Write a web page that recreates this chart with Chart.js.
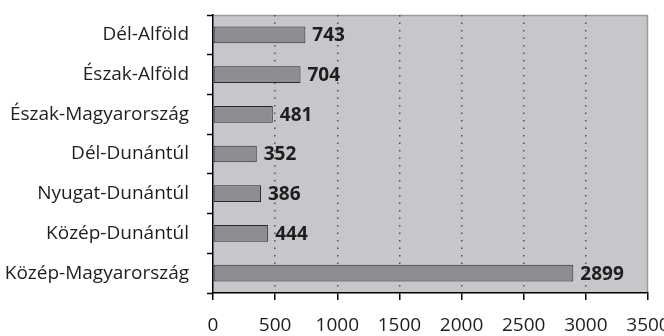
<!DOCTYPE html>
<html>
<head>
<meta charset="utf-8">
<script src="https://cdn.jsdelivr.net/npm/chart.js@4.4.1/dist/chart.umd.min.js"></script>
<style>
  html, body { margin: 0; padding: 0; background: #ffffff; }
  #wrap { width: 664px; height: 336px; position: relative; }
</style>
</head>
<body>
<div id="wrap"><canvas id="c"></canvas></div>
<script>
// Regions and their values
const regions = [
  'Dél-Alföld',
  'Észak-Alföld',
  'Észak-Magyarország',
  'Dél-Dunántúl',
  'Nyugat-Dunántúl',
  'Közép-Dunántúl',
  'Közép-Magyarország'
];
const values = [743, 704, 481, 352, 386, 444, 2899];
const xTicks = [0, 500, 1000, 1500, 2000, 2500, 3000, 3500];

const FONT = '"Open Sans", "DejaVu Sans", sans-serif';

// Grey plot background with a thin frame on the top and right edges
const plotFrame = {
  id: 'plotFrame',
  beforeDraw(chart) {
    const { ctx, chartArea: a } = chart;
    ctx.save();
    ctx.fillStyle = '#c6c7cb';
    ctx.fillRect(a.left, a.top, a.right - a.left, a.bottom - a.top);
    ctx.strokeStyle = '#9a9a9e';
    ctx.lineWidth = 1.5;
    ctx.beginPath();
    ctx.moveTo(a.left, a.top + 0.5);
    ctx.lineTo(a.right - 0.5, a.top + 0.5);
    ctx.lineTo(a.right - 0.5, a.bottom);
    ctx.stroke();
    ctx.restore();
  }
};

// Bold value printed after the end of each bar
const valueLabels = {
  id: 'valueLabels',
  afterDatasetsDraw(chart) {
    const { ctx } = chart;
    const meta = chart.getDatasetMeta(0);
    ctx.save();
    ctx.font = 'bold 19px ' + FONT;
    ctx.fillStyle = '#1e1e1e';
    ctx.textAlign = 'left';
    ctx.textBaseline = 'middle';
    meta.data.forEach((bar, i) => {
      ctx.fillText(String(chart.data.datasets[0].data[i]), bar.x + 7, bar.y + 1);
    });
    ctx.restore();
  }
};

new Chart(document.getElementById('c'), {
  type: 'bar',
  data: {
    labels: regions,
    datasets: [{
      data: values,
      backgroundColor: '#8d8e92',
      borderColor: '#2a2a2a',
      borderWidth: 1,
      borderSkipped: false,
      categoryPercentage: 1,
      barPercentage: 0.42
    }]
  },
  options: {
    indexAxis: 'y',
    responsive: true,
    maintainAspectRatio: false,
    animation: false,
    devicePixelRatio: 1,
    layout: { padding: { top: 15, right: 16, left: 0, bottom: 0 } },
    plugins: { legend: { display: false }, tooltip: { enabled: false } },
    scales: {
      x: {
        type: 'linear',
        min: 0,
        max: 3500,
        afterBuildTicks(scale) { scale.ticks = xTicks.map(v => ({ value: v })); },
        afterFit(scale) {
          scale.height = 43;
          scale.paddingLeft = 0;
          scale.paddingRight = 0;
        },
        border: { display: true, color: '#000', width: 1.5, dash: [1.5, 6] },
        grid: {
          drawOnChartArea: true,
          color: ctx => (ctx.tick && ctx.tick.value > 0 && ctx.tick.value < 3500) ? '#505050' : 'rgba(0,0,0,0)',
          lineWidth: 1.5,
          drawTicks: true,
          tickLength: 7,
          tickColor: '#000',
          tickWidth: 1.5
        },
        ticks: {
          color: '#1e1e1e',
          font: { family: FONT, size: 19 },
          padding: 14,
          maxRotation: 0,
          autoSkip: false,
          callback: v => String(v)
        }
      },
      y: {
        type: 'category',
        offset: true,
        afterFit(scale) {
          scale.width = 213;
          scale.paddingTop = 0;
          scale.paddingBottom = 0;
        },
        border: { display: true, color: '#000', width: 1.5 },
        grid: {
          offset: true,
          drawOnChartArea: false,
          drawTicks: true,
          tickLength: 6,
          tickColor: '#000',
          tickWidth: 1.5
        },
        ticks: {
          color: '#1e1e1e',
          font: { family: FONT, size: 19 },
          padding: 18,
          autoSkip: false
        }
      }
    }
  },
  plugins: [plotFrame, valueLabels]
});
</script>
</body>
</html>
